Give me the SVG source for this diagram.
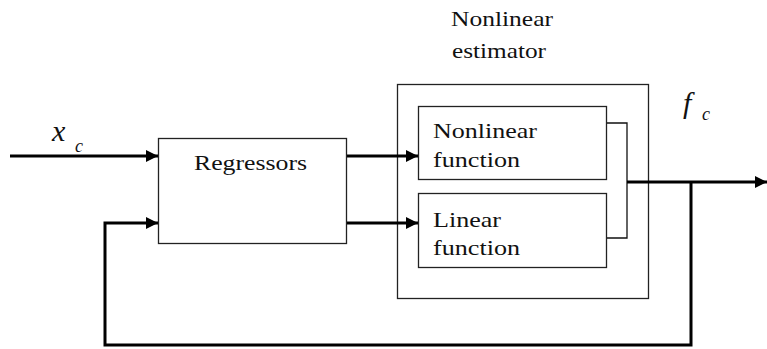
<svg xmlns="http://www.w3.org/2000/svg" width="767" height="349" viewBox="0 0 767 349">
  <defs>
    <marker id="arrow" viewBox="0 0 12 12" refX="12" refY="6" markerWidth="12" markerHeight="12" markerUnits="userSpaceOnUse" orient="auto">
      <path d="M0,0 L12,6 L0,12 Z" fill="#000"/>
    </marker>
  </defs>
  <style>
    .box { fill: #fff; stroke: #222; stroke-width: 1.3; }
    .lbl { font-size: 22px; fill: #111; }
    .math { font-style: italic; fill: #111; }
    .wire { fill: none; stroke: #000; stroke-width: 3; }
    .thin { fill: none; stroke: #111; stroke-width: 1.3; }
  </style>
  <rect width="767" height="349" fill="#fff"/>

  <g font-family="Liberation Serif, DejaVu Serif, serif">
  <!-- Outer estimator block -->
  <g id="estimator">
    <rect class="box" x="397.5" y="84.5" width="251" height="214"/>
    <text class="lbl" x="502" y="26" text-anchor="middle" textLength="102" lengthAdjust="spacingAndGlyphs">Nonlinear</text>
    <text class="lbl" x="499" y="58" text-anchor="middle" textLength="94" lengthAdjust="spacingAndGlyphs">estimator</text>
  </g>

  <g id="regressors">
    <rect class="box" x="158.5" y="138.5" width="188" height="105"/>
    <text class="lbl" x="194" y="170" textLength="113" lengthAdjust="spacingAndGlyphs">Regressors</text>
  </g>

  <g id="nonlinear-function">
    <rect class="box" x="418.5" y="106.5" width="188" height="73"/>
    <text class="lbl" x="433" y="138" textLength="104" lengthAdjust="spacingAndGlyphs">Nonlinear</text>
    <text class="lbl" x="433" y="167" textLength="87" lengthAdjust="spacingAndGlyphs">function</text>
  </g>

  <g id="linear-function">
    <rect class="box" x="418.5" y="193.5" width="188" height="74"/>
    <text class="lbl" x="433" y="227" textLength="68" lengthAdjust="spacingAndGlyphs">Linear</text>
    <text class="lbl" x="433" y="255" textLength="87" lengthAdjust="spacingAndGlyphs">function</text>
  </g>

  <g id="labels">
    <text class="math" x="52" y="141" font-size="30">x</text>
    <text class="math" x="75" y="152" font-size="18">c</text>
    <text class="math" x="683" y="113" font-size="30">f</text>
    <text class="math" x="702" y="120" font-size="18">c</text>
  </g>
  </g>

  <g id="connectors">
    <!-- input -->
    <line class="wire" x1="10" y1="156" x2="158" y2="156" marker-end="url(#arrow)"/>
    <!-- regressors to functions -->
    <line class="wire" x1="347" y1="156" x2="418" y2="156" marker-end="url(#arrow)"/>
    <line class="wire" x1="347" y1="223" x2="418" y2="223" marker-end="url(#arrow)"/>
    <!-- summing bracket -->
    <polyline class="thin" points="607,123 627,123 627,238 607,238"/>
    <!-- output -->
    <line class="wire" x1="627" y1="182" x2="767" y2="182" marker-end="url(#arrow)"/>
    <!-- feedback loop -->
    <polyline class="wire" points="691,182 691,345 105,345 105,223 158,223" stroke-linejoin="miter" marker-end="url(#arrow)"/>
  </g>
</svg>
